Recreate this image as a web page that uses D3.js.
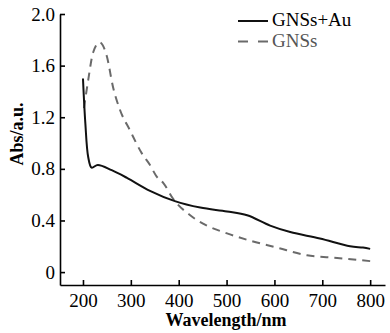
<!DOCTYPE html>
<html>
<head>
<meta charset="utf-8">
<style>
body { margin: 0; background: #fff; }
text { font-family: "Liberation Serif", "DejaVu Serif", serif; }
.axis path, .axis line { stroke: #000; stroke-width: 1.6; }
.axis text { font-size: 19px; fill: #000; }
</style>
</head>
<body>
<svg width="390" height="333"></svg>
<script src="https://d3js.org/d3.v7.min.js"></script>
<script>
var wlAu = [200, 205, 211, 218, 231, 260, 292, 340, 392, 445, 501, 543, 591, 633, 695, 758, 785, 800];
var absAu = [1.50, 1.15, 0.89, 0.81, 0.83, 0.79, 0.73, 0.63, 0.55, 0.50, 0.47, 0.44, 0.36, 0.31, 0.26, 0.20, 0.19, 0.18];

var wlGns = [202, 211, 221, 235, 250, 263, 277, 298, 323, 340, 354, 368, 388, 424, 459, 501, 543, 605, 668, 731, 800];
var absGns = [1.27, 1.49, 1.70, 1.78, 1.67, 1.43, 1.26, 1.10, 0.92, 0.83, 0.74, 0.69, 0.57, 0.44, 0.36, 0.30, 0.25, 0.19, 0.13, 0.11, 0.085];

var xTicks = [200, 300, 400, 500, 600, 700, 800];
var yTicks = [0, 0.4, 0.8, 1.2, 1.6, 2.0];

var svg = d3.select("svg");

var x = d3.scaleLinear().domain([152, 831]).range([60, 385]);
var y = d3.scaleLinear().domain([-0.1, 2.0]).range([285, 14]);

svg.append("g")
  .attr("class", "axis")
  .attr("transform", "translate(0,285)")
  .call(d3.axisBottom(x).tickValues(xTicks).tickSizeInner(-5).tickSizeOuter(0).tickPadding(9))
  .call(function(g) { g.selectAll("text").attr("dy", "0.71em"); });

svg.append("g")
  .attr("class", "axis")
  .attr("transform", "translate(60,0)")
  .call(d3.axisLeft(y).tickValues(yTicks).tickSizeInner(-5).tickSizeOuter(0).tickPadding(5)
    .tickFormat(function(d) { return d === 0 ? "0" : d3.format(".1f")(d); }));

var line = d3.line().curve(d3.curveMonotoneX);

svg.append("path")
  .datum(wlGns.map(function(w, i) { return [x(w), y(absGns[i])]; }))
  .attr("d", line)
  .attr("fill", "none")
  .attr("stroke", "#6a6a6a")
  .attr("stroke-width", 2)
  .attr("stroke-dasharray", "8,6");

svg.append("path")
  .datum(wlAu.map(function(w, i) { return [x(w), y(absAu[i])]; }))
  .attr("d", d3.line().curve(d3.curveCatmullRom))
  .attr("fill", "none")
  .attr("stroke", "#111")
  .attr("stroke-width", 2);

// legend
svg.append("line").attr("x1", 238).attr("x2", 268).attr("y1", 21).attr("y2", 21)
  .attr("stroke", "#111").attr("stroke-width", 2);
svg.append("text").attr("x", 272).attr("y", 26).attr("font-size", 19).attr("fill", "#000").text("GNSs+Au");
svg.append("line").attr("x1", 238).attr("x2", 268).attr("y1", 41.5).attr("y2", 41.5)
  .attr("stroke", "#6a6a6a").attr("stroke-width", 2).attr("stroke-dasharray", "10,10");
svg.append("text").attr("x", 272).attr("y", 47).attr("font-size", 19).attr("fill", "#555").text("GNSs");

// axis titles
svg.append("text")
  .attr("x", 226).attr("y", 326)
  .attr("text-anchor", "middle")
  .attr("font-size", 18).attr("font-weight", "bold")
  .text("Wavelength/nm");

svg.append("text")
  .attr("transform", "translate(23,134) rotate(-90)")
  .attr("text-anchor", "middle")
  .attr("font-size", 18).attr("font-weight", "bold")
  .text("Abs/a.u.");
</script>
</body>
</html>
